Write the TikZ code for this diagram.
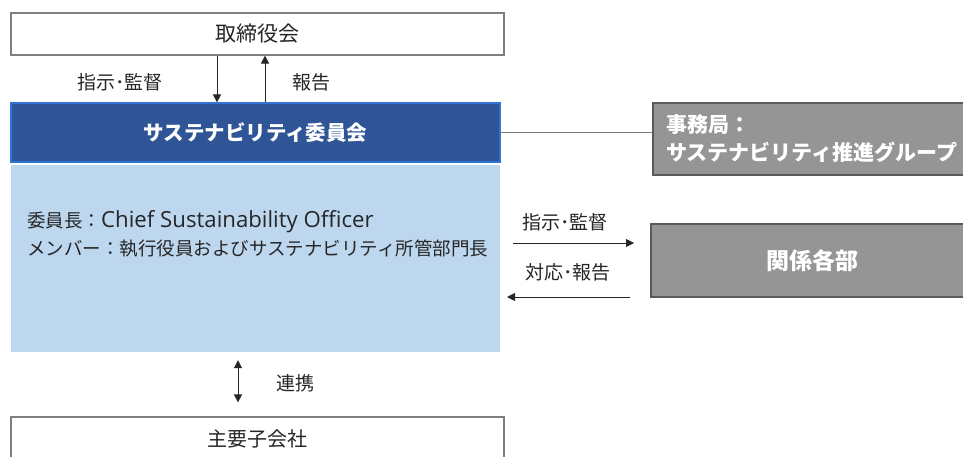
\documentclass[tikz,border=0pt]{standalone}
\usepackage{fontspec}
\setmainfont{Noto Sans CJK JP}
\newfontfamily\latinfont{Open Sans}[Scale=1.2]
\usetikzlibrary{arrows.meta}
\definecolor{hdrblue}{HTML}{2F5597}
\definecolor{hdredge}{HTML}{2E75D6}
\definecolor{lightblue}{HTML}{BDD7EE}
\definecolor{boxgray}{HTML}{959595}
\definecolor{edgegray}{HTML}{5A5A5A}
\definecolor{linegray}{HTML}{7F7F7F}
\definecolor{txt}{HTML}{262626}
\newcommand{\nd}{･}
\begin{document}
\begin{tikzpicture}[x=1pt,y=-1pt,
  whitebox/.style={draw=linegray,line width=1.2pt,fill=white,inner sep=0pt,text=txt},
  hdrbox/.style={draw=hdredge,line width=1.2pt,fill=hdrblue,inner sep=0pt,text=white,font=\bfseries\fontsize{20.5}{24}\selectfont},
  bodybox/.style={fill=lightblue,inner sep=0pt},
  graybox/.style={draw=edgegray,line width=1.2pt,fill=boxgray,inner sep=0pt,text=white,font=\bfseries\fontsize{23}{26}\selectfont},
  lbl/.style={inner sep=0pt,text=txt,font=\fontsize{19}{21}\selectfont},
  arr/.style={draw=txt,line width=0.9pt,-{Triangle[length=8pt,width=8pt]}},
  darr/.style={draw=txt,line width=0.9pt,{Triangle[length=8pt,width=8pt]}-{Triangle[length=8pt,width=8pt]}},
  conn/.style={draw=linegray,line width=1pt}]
\useasboundingbox (0,0) rectangle (963,457);
\clip (0,0) rectangle (963,457);
\fill[white] (0,0) rectangle (963,457);

\node[whitebox,minimum width=493pt,minimum height=42pt,font=\fontsize{21}{24}\selectfont] (board) at (257.5,34) {取締役会};
\node[hdrbox,minimum width=489pt,minimum height=59pt] (hdr) at (255.5,132.5) {サステナビリティ委員会};
\node[bodybox,minimum width=489pt,minimum height=187pt] (body) at (255.5,258.5) {};
\node[anchor=west,align=left,inner sep=0pt,text=txt,font=\fontsize{18.5}{28}\selectfont] (bodytext) at (27,234)
  {委員長：{\latinfont Chief Sustainability Officer}\\メンバー：執行役員およびサステナビリティ所管部門長};
\node[whitebox,minimum width=493pt,minimum height=44pt,font=\fontsize{20}{23}\selectfont] (sub) at (257.5,439) {主要子会社};

\node[graybox,minimum width=320pt,minimum height=72pt] (sec) at (813,139) {};
\node[anchor=west,align=left,inner sep=0pt,text=white,font=\bfseries\fontsize{21}{28}\selectfont] (sectext) at (666,139)
  {事務局：\\サステナビリティ推進グループ};
\node[graybox,minimum width=322pt,minimum height=73pt] (dept) at (812,260.5) {関係各部};

% top arrows
\draw[arr] ([xshift=-40.5pt]board.south) -- ([xshift=-38.5pt]hdr.north);
\draw[arr] ([xshift=9.5pt]hdr.north) -- ([xshift=7.5pt]board.south);
\node[lbl] (l1) at (120,82) {指示\nd 監督};
\node[lbl] (l2) at (311,82) {報告};

% connector to secretariat
\draw[conn] (hdr.east) -- (hdr.east -| sec.west);

% right arrows
\coordinate (r1s) at (513,243);
\coordinate (r1e) at (634,243);
\coordinate (r2s) at (630,297);
\coordinate (r2e) at (507,297);
\draw[arr] (r1s) -- (r1e);
\draw[arr] (r2s) -- (r2e);
\node[lbl] (l3) at (565,222) {指示\nd 監督};
\node[lbl] (l4) at (568,272) {対応\nd 報告};

% bottom double arrow
\draw[darr] ([xshift=-17.5pt,yshift=-8pt]body.south) -- ([xshift=-19.5pt,yshift=14pt]sub.north);
\node[lbl] (l5) at (295,383) {連携};
\end{tikzpicture}
\end{document}
